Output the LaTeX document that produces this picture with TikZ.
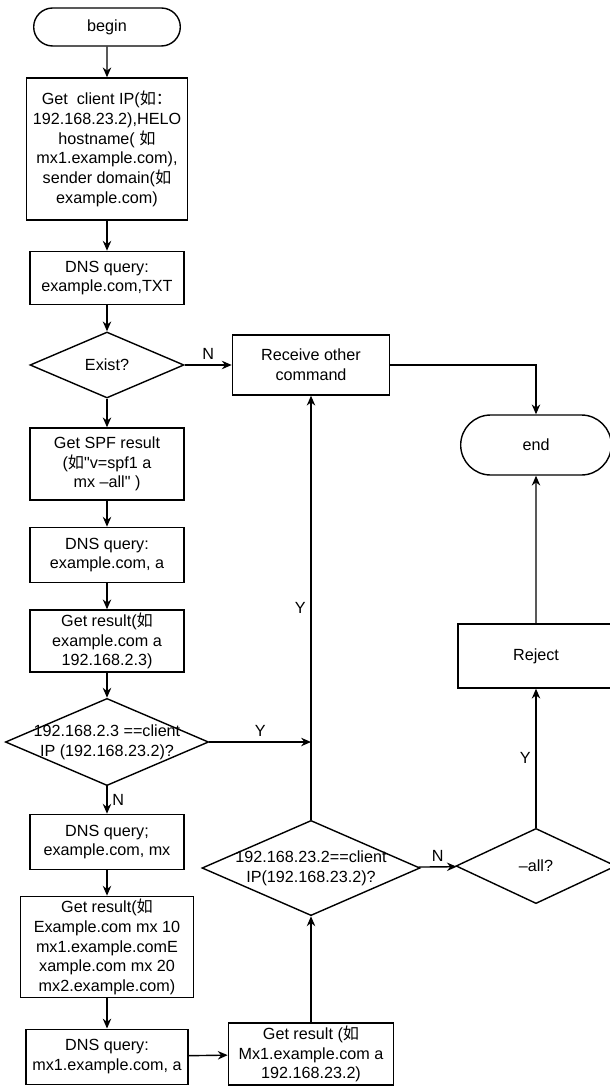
\documentclass[tikz,border=0pt]{standalone}
\usepackage{fontspec}
\setmainfont{Liberation Sans}
\newfontfamily\cjk{Noto Sans CJK SC}
\usetikzlibrary{shapes.geometric,shapes.misc,arrows.meta}

\begin{document}
\begin{tikzpicture}[line width=1pt,>={Stealth[length=7pt,width=6pt]},
  font=\fontsize{11.5}{14}\selectfont,
  terminal/.style={draw,rounded rectangle,minimum width=3.9cm,minimum height=0.95cm},
  process/.style={draw,rectangle,align=center,minimum width=3.85cm,inner sep=2pt},
  decision/.style={draw,diamond,inner sep=0pt}]
\useasboundingbox (0,0) rectangle (15.25,-27.175);
% main column
\node[terminal] (begin) at (2.675,-0.675) {begin};
\node[process,minimum width=4.03cm,minimum height=3.55cm] (client) at (2.675,-3.725)
  {Get\ \ client IP({\cjk 如：}\\192.168.23.2),HELO\\hostname( {\cjk 如}\\mx1.example.com),\\sender domain({\cjk 如}\\example.com)};
\node[process,minimum height=1.33cm] (txt) at (2.675,-6.95) {DNS query:\\example.com,TXT};
\node[decision,minimum width=3.85cm,minimum height=1.65cm,label={center:Exist?}] (exist) at (2.675,-9.125) {};
\node[process,minimum height=1.8cm] (spf) at (2.675,-11.6) {Get SPF result\\({\cjk 如}\textquotedbl v=spf1 a\\mx –all\textquotedbl\ )};
\node[process,minimum height=1.38cm] (dnsa) at (2.675,-13.875) {DNS query:\\example.com, a};
\node[process,minimum height=1.55cm] (resa) at (2.675,-16.025) {Get result({\cjk 如}\\example.com a\\192.168.2.3)};
\node[decision,minimum width=5.08cm,minimum height=2.18cm,
  label={[align=center]center:{192.168.2.3 ==client\\IP (192.168.23.2)?}}] (chka) at (2.675,-18.55) {};
\node[process,minimum height=1.38cm] (dnsmx) at (2.675,-21.05) {DNS query;\\example.com, mx};
\node[process,minimum width=4.33cm,minimum height=2.45cm] (resmx) at (2.675,-23.675)
  {Get result({\cjk 如}\\Example.com mx 10\\mx1.example.comE\\xample.com mx 20\\mx2.example.com)};
\node[process,minimum width=4.05cm,minimum height=1.38cm] (dnsmx1) at (2.675,-26.42) {DNS query:\\mx1.example.com, a};
% middle column
\node[process,minimum width=3.93cm,minimum height=1.5cm] (recv) at (7.775,-9.125) {Receive other\\command};
\node[decision,minimum width=5.45cm,minimum height=2.38cm,
  label={[align=center]center:{192.168.23.2==client\\IP(192.168.23.2)?}}] (chkb) at (7.775,-21.7) {};
\node[process,minimum width=4.13cm,minimum height=1.5cm] (resmx1) at (7.775,-26.35)
  {Get result ({\cjk 如}\\Mx1.example.com a\\192.168.23.2)};
% right column
\node[terminal,minimum width=4cm,minimum height=1.5cm] (end) at (13.4,-11.125) {end};
\node[process,minimum width=3.9cm,minimum height=1.6cm] (reject) at (13.4,-16.4) {Reject};
\node[decision,minimum width=4cm,minimum height=1.88cm,label={center:–all?}] (all) at (13.4,-21.65) {};
\coordinate (jy) at (recv.south |- chka.east);
% connectors
\draw[->] (begin) -- (client);
\draw[->] (client) -- (txt);
\draw[->] (txt) -- (exist);
\draw[->] (exist) -- (spf);
\draw[->] (spf) -- (dnsa);
\draw[->] (dnsa) -- (resa);
\draw[->] (resa) -- (chka);
\draw[->] (chka) -- node[right]{N} (dnsmx);
\draw[->] (dnsmx) -- (resmx);
\draw[->] (resmx) -- (dnsmx1);
\draw[->] (dnsmx1) -- (resmx1);
\draw[->] (resmx1) -- (chkb);
\draw[->] (chkb) -- node[above]{N} (all);
\draw[->] (all) -- node[left]{Y} (reject);
\draw[->] (reject) -- (end);
\draw[->] (exist) -- node[above]{N} (recv);
\draw[->] (recv.east) -| (end.north);
\draw[->] (chka.east) -- node[above]{Y} (jy);
\draw[->] (chkb.north) -- node[left]{Y} (recv.south);
\end{tikzpicture}
\end{document}
